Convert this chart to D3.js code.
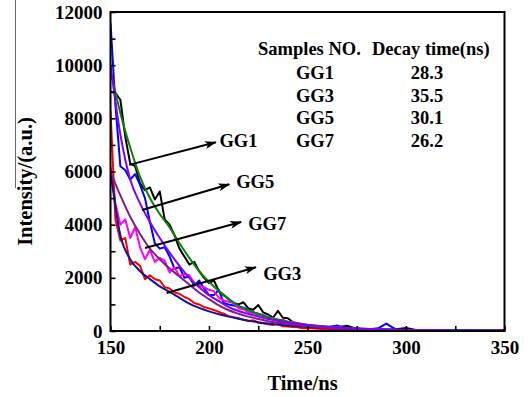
<!DOCTYPE html>
<html>
<head>
<meta charset="utf-8">
<script src="https://cdn.jsdelivr.net/npm/d3@7"></script>
<style>
  html, body { margin: 0; padding: 0; background: #fff; }
  svg { display: block; }
</style>
</head>
<body>
<svg id="chart" width="528" height="397"></svg>
<script>
// ---------------- data ----------------
const rawTime = [150,152.5,155,157.5,160,162.5,165,167.5,170,172.5,175,177.5,180,182.5,185,187.5,190,192.5,195,197.5,
  200,202.5,205,207.5,210,212.5,215,217.5,220,222.5,225,227.5,230,232.5,235,237.5,240,242.5,245,247.5,250,
  255,260,265,270,275,280,285,290,295,300,305,310,315,320,325,330,335,340,345,350];

const gg1Raw = [9000,8950,8700,7300,6300,6200,5550,5300,5400,4950,5250,4200,4000,3600,3100,2800,2500,2600,2250,2000,
  1800,1900,1500,1350,1200,1050,1000,1080,850,800,980,700,620,500,760,500,480,340,270,230,200,
  170,120,130,200,80,60,90,50,70,110,40,30,40,25,35,20,30,20,25,15];
const gg5Raw = [11600,8500,6200,6050,5700,5900,5500,5000,4100,3300,3100,3150,2800,2350,2400,2000,2050,1700,1900,1600,
  1350,1350,1550,1050,1000,960,920,880,800,700,650,560,520,450,420,370,330,300,270,240,210,
  180,140,210,100,90,70,60,280,50,40,30,35,25,30,20,25,20,15,20,15];
const gg7Raw = [6200,4800,4000,4200,3500,3900,3150,2700,3050,2600,2750,2650,2200,2400,2050,2150,2100,1800,1700,1650,
  1550,1500,1250,1150,1100,1050,850,820,700,680,600,620,480,500,400,430,330,350,280,260,210,
  180,130,150,90,80,60,55,40,35,30,25,25,20,20,15,15,12,12,10,10];
const gg3Raw = [8300,4200,3400,3500,2500,2600,2450,1950,2100,1950,1900,1650,1600,1450,1400,1280,1200,1050,1000,900,
  850,790,720,650,560,520,480,420,380,400,310,290,250,230,260,180,170,150,140,100,110,
  80,70,60,40,35,30,25,20,20,15,15,12,10,10,10,8,8,8,8,8];

const fitTime = [150,155,160,165,170,175,180,185,190,195,200,205,210,215,220,225,230,235,240,245,
  250,255,260,265,270,275,280,285,290,295,300,305,310,315,320,325,330,335,340,345,350];
const gg1Fit = [9800,8200,6900,5800,5000,4400,3900,3300,2750,2250,1850,1500,1200,950,780,640,520,430,350,290,
  240,200,165,135,110,90,75,62,52,44,37,31,26,22,19,16,14,12,10,9,8];
const gg5Fit = [10000,7400,5700,4800,4100,3500,2950,2450,2000,1650,1350,1120,900,750,640,540,450,380,320,270,
  230,190,160,135,115,95,80,68,57,48,40,34,29,24,20,17,15,12,10,9,8];
const gg7Fit = [6000,5100,4300,3650,3100,2700,2350,2050,1750,1450,1200,960,780,650,540,450,370,310,260,215,
  180,150,125,105,88,73,61,51,43,36,30,25,21,18,15,13,11,9,8,7,6];
const gg3Fit = [6000,3600,2700,2250,1950,1680,1470,1250,1030,870,740,630,540,460,390,330,280,240,205,175,
  150,128,110,94,80,68,58,50,43,37,31,27,23,20,17,14,12,10,9,8,7];

const xTicks = [150,200,250,300,350];
const xMinor = [175,225,275,325];
const yTicks = [0,2000,4000,6000,8000,10000,12000];
const yMinor = [1000,3000,5000,7000,9000,11000];

const tableHeader = ["Samples NO.", "Decay time(ns)"];
const sampleNames = ["GG1", "GG3", "GG5", "GG7"];
const decayTimes = ["28.3", "35.5", "30.1", "26.2"];

// annotations in data units
const annotations = [
  {label:"GG1", s:[159.5,6250], e:[203.5,7100], t:[205.3,6920]},
  {label:"GG5", s:[166.0,4550], e:[210.3,5520], t:[213.8,5380]},
  {label:"GG7", s:[167.5,3120], e:[216.3,4100], t:[219.9,3800]},
  {label:"GG3", s:[178.5,1430], e:[223.8,2400], t:[227.5,1920]}
];

// ---------------- layout ----------------
const FONT = "'Liberation Serif', 'Times New Roman', 'DejaVu Serif', serif";
const svg = d3.select("#chart");
const L = 110.5, R = 504.5, T = 12, B = 331;
const x = d3.scaleLinear().domain([150,350]).range([L,R]);
const y = d3.scaleLinear().domain([0,12000]).range([B,T]);

const txt = (sel, size) => sel.style("font-family", FONT).style("font-weight","bold")
  .style("font-size", size + "px").style("fill","#000");

// scan artifact line at far left
svg.append("line").attr("x1",15.5).attr("x2",15.5).attr("y1",0).attr("y2",188)
  .attr("stroke","#666").attr("stroke-width",1);

svg.append("clipPath").attr("id","clip").append("rect")
  .attr("x",L).attr("y",T).attr("width",R-L).attr("height",B-T);

const line = (ts, vs, curve) => d3.line()
  .x((d,i)=>x(ts[i])).y(d=>y(d)).curve(curve)(vs);

const series = [
  {t:rawTime, v:gg1Raw, c:"#000000", curve:d3.curveLinear},
  {t:rawTime, v:gg5Raw, c:"#0000ff", curve:d3.curveLinear},
  {t:rawTime, v:gg7Raw, c:"#ff00ff", curve:d3.curveLinear},
  {t:rawTime, v:gg3Raw, c:"#ff0000", curve:d3.curveLinear},
  {t:fitTime, v:gg1Fit, c:"#0a800a", curve:d3.curveMonotoneX},
  {t:fitTime, v:gg3Fit, c:"#14148c", curve:d3.curveMonotoneX},
  {t:fitTime, v:gg7Fit, c:"#8a1a8a", curve:d3.curveMonotoneX},
  {t:fitTime, v:gg5Fit, c:"#8000ff", curve:d3.curveMonotoneX}
];
const lines = svg.append("g").attr("clip-path","url(#clip)");
series.forEach(s => {
  lines.append("path").attr("d", line(s.t, s.v, s.curve))
    .attr("fill","none").attr("stroke",s.c).attr("stroke-width",2)
    .attr("stroke-linejoin","round");
});

// axes
const gx = svg.append("g").attr("transform",`translate(0,${B})`)
  .call(d3.axisBottom(x).tickValues(xTicks).tickSize(-5).tickPadding(10).tickFormat(d3.format("d")));
const gxm = svg.append("g").attr("transform",`translate(0,${B})`)
  .call(d3.axisBottom(x).tickValues(xMinor).tickSize(-5).tickFormat(""));
const gy = svg.append("g").attr("transform",`translate(${L},0)`)
  .call(d3.axisLeft(y).tickValues(yTicks).tickSize(-5).tickPadding(9).tickFormat(d3.format("d")));
const gym = svg.append("g").attr("transform",`translate(${L},0)`)
  .call(d3.axisLeft(y).tickValues(yMinor).tickSize(-5).tickFormat(""));
[gx,gxm,gy,gym].forEach(g => {
  g.attr("font-family", null).attr("font-size", null);
  g.select(".domain").remove();
  g.selectAll(".tick line").attr("stroke","#000").attr("stroke-width",1.6);
});
txt(gx.selectAll(".tick text"), 19);
txt(gy.selectAll(".tick text"), 19);
gy.selectAll(".tick text").attr("x",-8);

// frame
svg.append("rect").attr("x",L).attr("y",T).attr("width",R-L).attr("height",B-T)
  .attr("fill","none").attr("stroke","#000").attr("stroke-width",2);

// axis titles
txt(svg.append("text").attr("x",(L+R)/2 - 5).attr("y",390).attr("text-anchor","middle"), 20.5).text("Time/ns");
txt(svg.append("text").attr("transform",`translate(32,${(T+B)/2 + 10}) rotate(-90)`)
  .attr("text-anchor","middle"), 20.5).text("Intensity/(a.u.)");

// table
txt(svg.append("text").attr("x",258).attr("y",55), 18.5).text(tableHeader[0]);
txt(svg.append("text").attr("x",372).attr("y",55), 18.5).text(tableHeader[1]);
sampleNames.forEach((n,i) => {
  txt(svg.append("text").attr("x",315).attr("y",79 + i*22.7).attr("text-anchor","middle"), 18.5).text(n);
  txt(svg.append("text").attr("x",427).attr("y",79 + i*22.7).attr("text-anchor","middle"), 18.5).text(decayTimes[i]);
});

// arrows
const defs = svg.append("defs");
defs.append("marker").attr("id","ah").attr("viewBox","0 0 12 8").attr("refX",11).attr("refY",4)
  .attr("markerWidth",12).attr("markerHeight",8).attr("markerUnits","userSpaceOnUse").attr("orient","auto")
  .append("path").attr("d","M0,0 L12,4 L0,8 L3,4 Z").attr("fill","#000");
annotations.forEach(a => {
  svg.append("line")
    .attr("x1",x(a.s[0])).attr("y1",y(a.s[1]))
    .attr("x2",x(a.e[0])).attr("y2",y(a.e[1]))
    .attr("stroke","#000").attr("stroke-width",2).attr("marker-end","url(#ah)");
  txt(svg.append("text").attr("x",x(a.t[0])).attr("y",y(a.t[1])), 18.5).text(a.label);
});
</script>
</body>
</html>
